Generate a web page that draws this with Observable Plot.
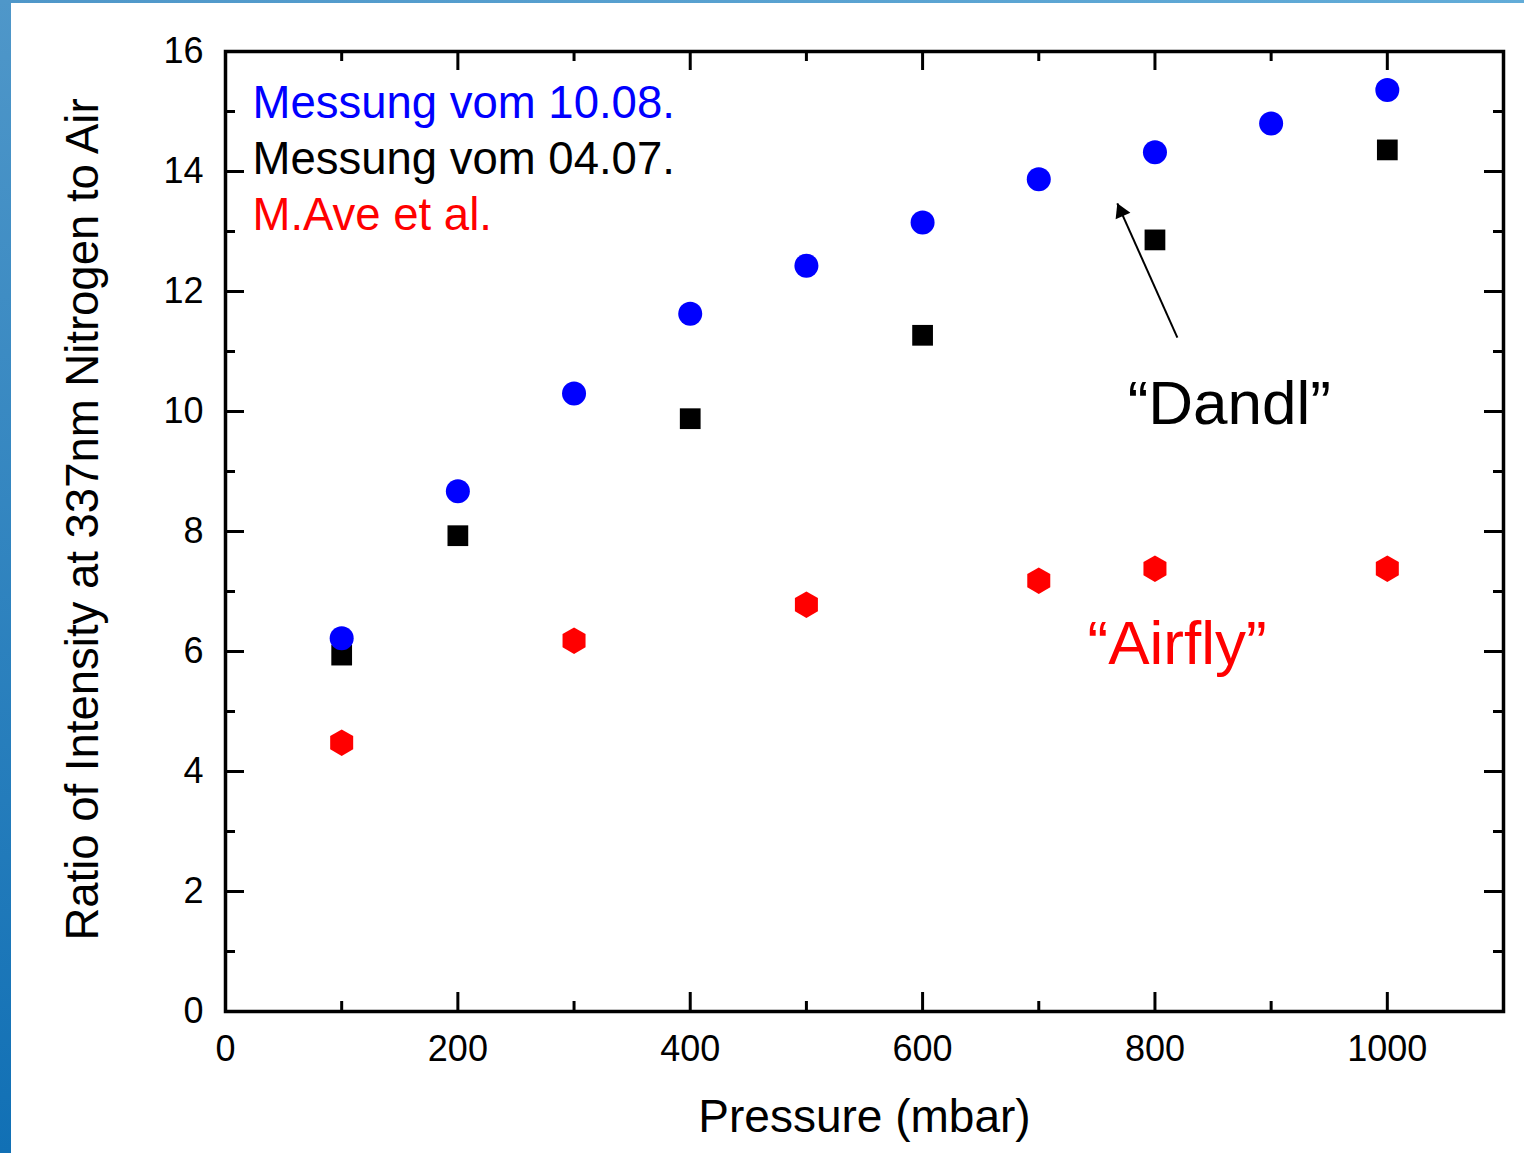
<!DOCTYPE html>
<html>
<head>
<meta charset="utf-8">
<script src="https://cdn.jsdelivr.net/npm/d3@7"></script>
<script src="https://cdn.jsdelivr.net/npm/@observablehq/plot@0.6"></script>
<style>
  html, body { margin: 0; padding: 0; background: #fff; }
  #wrap { position: relative; width: 1524px; height: 1153px; overflow: hidden; }
  #stripLeft { position: absolute; left: 0; top: 0; width: 11px; height: 1153px;
    background: linear-gradient(to bottom, #4f97c9, #1170b5); }
  #stripTop { position: absolute; left: 0; top: 0; width: 1524px; height: 3px;
    background: linear-gradient(to right, #4f97c9, #62acd8); }
</style>
</head>
<body>
<div id="wrap"><div id="chart"></div><div id="stripLeft"></div><div id="stripTop"></div></div>
<script>
// ---- data ----
const blueX = [100, 200, 300, 400, 500, 600, 700, 800, 900, 1000];
const blueY = [6.22, 8.67, 10.30, 11.63, 12.43, 13.15, 13.87, 14.32, 14.80, 15.36];

const blackX = [100, 200, 400, 600, 800, 1000];
const blackY = [5.94, 7.93, 9.88, 11.27, 12.86, 14.36];

const redX = [100, 300, 500, 700, 800, 1000];
const redY = [4.48, 6.18, 6.78, 7.18, 7.38, 7.38];

const xMajorTicks = [0, 200, 400, 600, 800, 1000];
const xMinorTicks = [100, 300, 500, 700, 900, 1100];
const yMajorTicks = [0, 2, 4, 6, 8, 10, 12, 14, 16];
const yMinorTicks = [1, 3, 5, 7, 9, 11, 13, 15];

const legendLabels = ["Messung vom 10.08.", "Messung vom 04.07.", "M.Ave et al."];
const legendColors = ["#0000ff", "#000000", "#ff0000"];

const annotations = [
  {label: "\u201cDandl\u201d", x: 864, y: 9.8, color: "#000000"},
  {label: "\u201cAirfly\u201d", x: 819, y: 5.8, color: "#ff0000"}
];
const arrowLine = [{x1: 819.3, y1: 11.23, x2: 767.6, y2: 13.47}];

const xLabel = "Pressure (mbar)";
const yLabel = "Ratio of Intensity at 337nm Nitrogen to Air";

// ---- tables ----
const blue = blueX.map((x, i) => ({x, y: blueY[i]}));
const black = blackX.map((x, i) => ({x, y: blackY[i]}));
const red = redX.map((x, i) => ({x, y: redY[i]}));

const W = 1524, H = 1153;
const mL = 225, mR = 21, mT = 51, mB = 142;
const pw = W - mL - mR, ph = H - mT - mB;
const majorLen = 19, minorLen = 10;
const font = "'Liberation Sans', Arial, sans-serif";

const chart = Plot.plot({
  width: W,
  height: H,
  marginLeft: mL,
  marginRight: mR,
  marginTop: mT,
  marginBottom: mB,
  style: {fontFamily: font, background: "white", color: "black"},
  x: {domain: [0, 1100]},
  y: {domain: [0, 16]},
  marks: [
    Plot.axisX({ticks: xMajorTicks, tickSize: 0, tickPadding: 24, fontSize: 36, label: null, tickFormat: d => String(d)}),
    Plot.axisY({ticks: yMajorTicks, tickSize: 0, tickPadding: 22, fontSize: 36, label: null, tickFormat: d => String(d)}),
    // inward ticks on all four sides
    Plot.tickX(xMajorTicks, {x: d => d, insetTop: ph - majorLen, strokeWidth: 3}),
    Plot.tickX(xMajorTicks, {x: d => d, insetBottom: ph - majorLen, strokeWidth: 3}),
    Plot.tickX(xMinorTicks, {x: d => d, insetTop: ph - minorLen, strokeWidth: 3}),
    Plot.tickX(xMinorTicks, {x: d => d, insetBottom: ph - minorLen, strokeWidth: 3}),
    Plot.tickY(yMajorTicks, {y: d => d, insetRight: pw - majorLen, strokeWidth: 3}),
    Plot.tickY(yMajorTicks, {y: d => d, insetLeft: pw - majorLen, strokeWidth: 3}),
    Plot.tickY(yMinorTicks, {y: d => d, insetRight: pw - minorLen, strokeWidth: 3}),
    Plot.tickY(yMinorTicks, {y: d => d, insetLeft: pw - minorLen, strokeWidth: 3}),
    Plot.frame({strokeWidth: 3.5}),
    // axis titles
    Plot.text([xLabel], {text: d => d, frameAnchor: "bottom", dy: 120, lineAnchor: "bottom", fontSize: 46, fill: "black"}),
    Plot.text([yLabel], {text: d => d, frameAnchor: "left", textAnchor: "middle", rotate: -90, dx: -128, dy: -12, lineAnchor: "bottom", fontSize: 45.5, fill: "black"}),
    // data
    Plot.dot(red, {x: "x", y: "y", symbol: "hexagon", r: 11.5, fill: "#ff0000", stroke: null}),
    Plot.dot(black, {x: "x", y: "y", symbol: "square", r: 11.7, fill: "#000000", stroke: null}),
    Plot.dot(blue, {x: "x", y: "y", symbol: "circle", r: 12, fill: "#0000ff", stroke: null}),
    // legend text
    ...legendLabels.map((t, i) => Plot.text([t], {
      text: d => d, frameAnchor: "top-left", textAnchor: "start", lineAnchor: "bottom",
      dx: 27, dy: 66 + 56 * i, fontSize: 45.5, fill: legendColors[i]
    })),
    // annotations
    Plot.text(annotations, {x: "x", y: "y", text: "label", fill: "color", fontSize: 62, lineAnchor: "bottom", textAnchor: "middle"}),
    Plot.link(arrowLine, {x1: "x1", y1: "y1", x2: "x2", y2: "y2", stroke: "black", strokeWidth: 2}),
    Plot.dot(arrowLine, {x: "x2", y: "y2", symbol: "triangle", r: 6, fill: "black", stroke: null, rotate: -24.1, dx: 3.8, dy: 8.5})
  ]
});
document.getElementById("chart").appendChild(chart);
</script>
</body>
</html>
